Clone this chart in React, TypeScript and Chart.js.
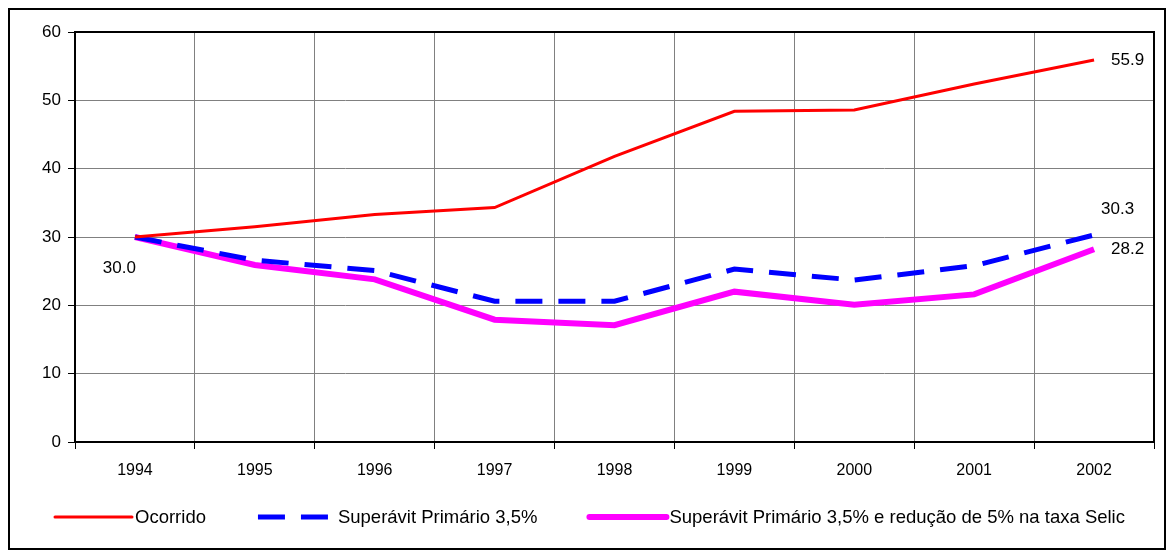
import React, { useEffect, useRef } from "react";
import { Chart, registerables } from "chart.js";

Chart.register(...registerables);

const years = ["1994", "1995", "1996", "1997", "1998", "1999", "2000", "2001", "2002"];
const ocorrido = [30.0, 31.5, 33.3, 34.3, 41.8, 48.4, 48.6, 52.4, 55.9];
const superavit = [30.0, 26.6, 25.1, 20.6, 20.6, 25.3, 23.7, 25.8, 30.3];
const selic = [30.0, 25.9, 23.8, 17.9, 17.1, 22.0, 20.1, 21.6, 28.2];
const seriesNames = [
  "Ocorrido",
  "Superávit Primário 3,5%",
  "Superávit Primário 3,5% e redução de 5% na taxa Selic",
];
const yTicks = [0, 10, 20, 30, 40, 50, 60];

const FONT = "'Liberation Sans', Arial, sans-serif";

const framePlugin = {
  id: "frame",
  beforeDatasetsDraw(chart: any) {
    const { ctx, chartArea } = chart;
    ctx.save();
    ctx.strokeStyle = "#000";
    ctx.lineWidth = 2;
    ctx.strokeRect(chartArea.left, chartArea.top, chartArea.right - chartArea.left, chartArea.bottom - chartArea.top);
    ctx.restore();
  },
};

const labelPlugin = {
  id: "pointLabels",
  afterDatasetsDraw(chart: any) {
    const { ctx } = chart;
    const specs = [
      { ds: 0, i: 0, dx: 1, dy: 31, align: "right" },
      { ds: 0, i: 8, dx: 17, dy: 0, align: "left" },
      { ds: 1, i: 8, dx: 7, dy: -26, align: "left" },
      { ds: 2, i: 8, dx: 17, dy: 0, align: "left" },
    ];
    ctx.save();
    ctx.font = `17px ${FONT}`;
    ctx.fillStyle = "#000";
    ctx.textBaseline = "middle";
    for (const s of specs) {
      const pt = chart.getDatasetMeta(s.ds).data[s.i];
      const v = chart.data.datasets[s.ds].data[s.i] as number;
      ctx.textAlign = s.align;
      ctx.fillText(v.toFixed(1), pt.x + s.dx, pt.y + s.dy);
    }
    ctx.restore();
  },
};

const legendPlugin = {
  id: "customLegend",
  afterDraw(chart: any) {
    const { ctx } = chart;
    const y = 507;
    const lineLen = 77;
    const textGap = 3;
    const itemGap = 52;
    ctx.save();
    ctx.font = `18.5px ${FONT}`;
    const widths = chart.data.datasets.map((d: any) => ctx.measureText(d.label).width);
    const total = widths.reduce((a: number, w: number) => a + lineLen + textGap + w, 0) + itemGap * (widths.length - 1);
    let x = 580 - total / 2;
    chart.data.datasets.forEach((d: any, idx: number) => {
      ctx.beginPath();
      ctx.strokeStyle = d.borderColor;
      ctx.lineWidth = d.borderWidth;
      ctx.setLineDash(d.borderDash || []);
      ctx.lineCap = d.borderDash ? "butt" : "round";
      ctx.moveTo(x, y);
      ctx.lineTo(x + lineLen, y);
      ctx.stroke();
      ctx.setLineDash([]);
      ctx.fillStyle = "#000";
      ctx.textAlign = "left";
      ctx.textBaseline = "middle";
      ctx.fillText(d.label, x + lineLen + textGap, y + 1);
      x += lineLen + textGap + widths[idx] + itemGap;
    });
    ctx.restore();
  },
};

export default function App() {
  const ref = useRef<HTMLCanvasElement | null>(null);
  useEffect(() => {
    if (!ref.current) return;
    const chart = new Chart(ref.current, {
      type: "line",
      data: {
        labels: years,
        datasets: [
          {
            label: seriesNames[0],
            data: ocorrido,
            borderColor: "#ff0000",
            borderWidth: 3,
            pointRadius: 0,
            tension: 0,
          },
          {
            label: seriesNames[1],
            data: superavit,
            borderColor: "#0000ff",
            borderWidth: 5,
            borderDash: [27, 16],
            pointRadius: 0,
            tension: 0,
          },
          {
            label: seriesNames[2],
            data: selic,
            borderColor: "#ff00ff",
            borderWidth: 6,
            pointRadius: 0,
            tension: 0,
          },
        ] as any,
      },
      options: {
        animation: false,
        responsive: false,
        maintainAspectRatio: false,
        layout: { padding: { left: 0, right: 10, top: 22, bottom: 0 } },
        plugins: {
          legend: { display: false },
          tooltip: { enabled: false },
        },
        scales: {
          x: {
            offset: true,
            grid: { offset: true, color: "#808080", lineWidth: 1, tickColor: "#000", tickLength: 7 },
            border: { display: true, color: "#000", width: 2 },
            ticks: { color: "#000", font: { family: FONT, size: 16 }, padding: 12, maxRotation: 0 },
            afterFit(scale: any) {
              scale.height = 106;
            },
          },
          y: {
            min: 0,
            max: 60,
            afterBuildTicks(scale: any) {
              scale.ticks = yTicks.map((v) => ({ value: v }));
            },
            grid: { color: "#808080", lineWidth: 1, tickColor: "#000", tickLength: 7 },
            border: { display: true, color: "#000", width: 2 },
            ticks: { color: "#000", font: { family: FONT, size: 17 }, padding: 7 },
            afterFit(scale: any) {
              scale.width = 65;
            },
          },
        },
      },
      plugins: [framePlugin, labelPlugin, legendPlugin],
    });
    return () => chart.destroy();
  }, []);

  return (
    <div
      style={{
        width: 1158,
        height: 542,
        border: "2px solid #000",
        boxSizing: "border-box",
        background: "#fff",
      }}
    >
      <canvas ref={ref} width={1154} height={538} style={{ display: "block" }} />
    </div>
  );
}
